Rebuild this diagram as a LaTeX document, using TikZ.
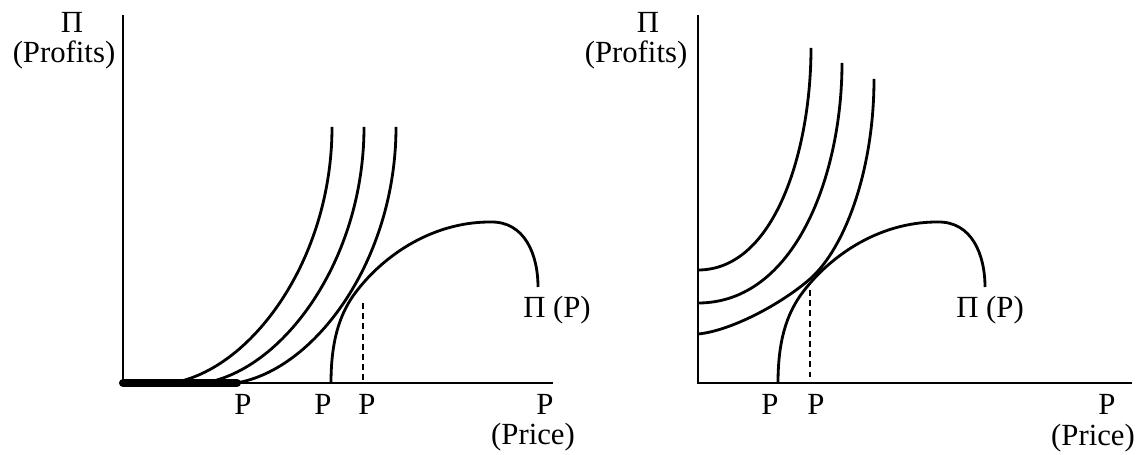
\documentclass[tikz,border=0pt]{standalone}
\usepackage{fontspec}
\setmainfont{Liberation Serif}
\usepackage{tikz}
\usetikzlibrary{positioning, calc}

\begin{document}
\begin{tikzpicture}[x=0.02cm, y=-0.02cm,
    axis/.style={line width=1.2pt, black},
    curve/.style={line width=1.6pt, black},
    corner/.style={line width=4.6pt, black, line cap=round},
    guide/.style={line width=0.6pt, black, dash pattern=on 3.4pt off 2.4pt},
    lab/.style={inner sep=0pt, font=\fontsize{17.5}{19}\selectfont}
]
\useasboundingbox (0,0) rectangle (1142,455);

% Left panel axes
\coordinate (LO) at (123,383);
\coordinate (LY) at (123,15);
\coordinate (LX) at (553,383);
\draw [axis] (LY) -- (LO) -- (LX);
\coordinate (LT) at (237,383);
\draw [corner] (LO) -- (LT);

% Left panel isoprofit curves
\foreach \s in {0,32,64}
  \draw [curve] (172+\s,383) .. controls (251+\s,370) and (332+\s,260) .. (332+\s,127);

% Left panel profit function
\draw [curve] (331,383) .. controls (331,340) and (340,315) .. (353,296)
              .. controls (380,258) and (430,222) .. (490,222)
              .. controls (525,221) and (538,255) .. (538,287);
\draw [guide] (363,303) -- (363,383);

% Left panel labels
\node (LPi)    [lab] at (72,22)  {Π};
\node (LProf)  [lab] at (64,55)  {(Profits)};
\node (LP1)    [lab] at (243,404) {P};
\node (LP2)    [lab] at (323,404) {P};
\node (LP3)    [lab] at (367,404) {P};
\node (LP4)    [lab] at (545,404) {P};
\node (LPrice) [lab] at (533,437) {(Price)};
\node (LPiP)   [lab] at (557,310) {Π (P)};

% Right panel axes
\coordinate (RO) at (698,383);
\coordinate (RY) at (698,15);
\coordinate (RX) at (1132,383);
\draw [axis] (RY) -- (RO) -- (RX);

% Right panel isoprofit curves
\draw [curve] (698,270) .. controls (775,270) and (811,150) .. (811,48);
\draw [curve] (698,303) .. controls (795,303) and (842,175) .. (842,63);
\draw [curve] (698,334) .. controls (730,331) and (780,305) .. (810,279)
              .. controls (845,248) and (874,170) .. (874,79);

% Right panel profit function
\draw [curve] (778,383) .. controls (778,340) and (787,315) .. (800,296)
              .. controls (827,258) and (877,222) .. (937,222)
              .. controls (972,221) and (985,255) .. (985,287);
\draw [guide] (810,290) -- (810,383);

% Right panel labels
\node (RPi)    [lab] at (648,22)  {Π};
\node (RProf)  [lab] at (636,55)  {(Profits)};
\node (RP1)    [lab] at (770,404) {P};
\node (RP2)    [lab] at (816,404) {P};
\node (RP3)    [lab] at (1107,404) {P};
\node (RPrice) [lab] at (1093,438) {(Price)};
\node (RPiP)   [lab] at (990,310) {Π (P)};

\end{tikzpicture}
\end{document}
